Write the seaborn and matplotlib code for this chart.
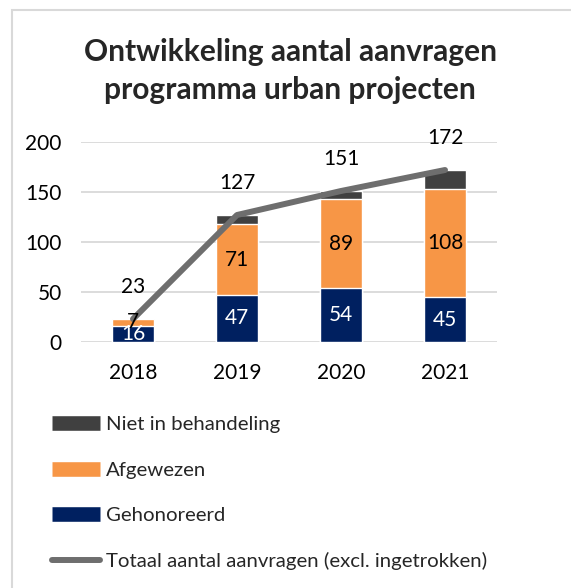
import numpy as np
import pandas as pd
import matplotlib
matplotlib.use('Agg')
import matplotlib.pyplot as plt
import seaborn as sns
from matplotlib.lines import Line2D
from matplotlib.patches import Rectangle

# data
jaren = ['2018', '2019', '2020', '2021']
gehonoreerd = [16, 47, 54, 45]
afgewezen = [7, 71, 89, 108]
niet_in_behandeling = [0, 9, 8, 19]

kleur_geh = '#002060'
kleur_afg = '#F79646'
kleur_niet = '#404040'
kleur_lijn = '#6E6E6E'

sns.set_theme(style='white')
plt.rcParams['font.family'] = ['Lato', 'DejaVu Sans']

df = pd.DataFrame({
    'jaar': jaren,
    'geh': gehonoreerd,
    'afg': afgewezen,
    'niet': niet_in_behandeling,
})
df['tot_afg'] = df['geh'] + df['afg']
df['totaal'] = df['tot_afg'] + df['niet']

fig = plt.figure(figsize=(5.71, 5.88), dpi=100)
ax = fig.add_axes([81 / 571, 246 / 588, 416 / 571, 200 / 588])

# stacked bars: draw cumulative totals back to front
bw = 0.4
sns.barplot(data=df, x='jaar', y='totaal', color=kleur_niet, width=bw, saturation=1, ax=ax, zorder=2)
sns.barplot(data=df, x='jaar', y='tot_afg', color=kleur_afg, width=bw, saturation=1, ax=ax, zorder=2)
sns.barplot(data=df, x='jaar', y='geh', color=kleur_geh, width=bw, saturation=1, ax=ax, zorder=2)

xpos = np.arange(len(jaren))
ax.plot(xpos, df['totaal'], color=kleur_lijn, lw=4.3, solid_capstyle='round', zorder=3)

# labels in the segments
for i in range(len(jaren)):
    ax.text(xpos[i], df['geh'][i] / 2, str(df['geh'][i]), ha='center', va='center',
            color='white', fontsize=15, zorder=4)
    ax.text(xpos[i], df['geh'][i] + df['afg'][i] / 2, str(df['afg'][i]), ha='center', va='center',
            color='black', fontsize=15, zorder=4)
    ax.annotate(str(df['totaal'][i]), (xpos[i], df['totaal'][i]), xytext=(0, 23),
                textcoords='offset points', ha='center', va='center', fontsize=15,
                color='black', annotation_clip=False)

ax.set_xlim(-0.5, 3.5)
ax.set_ylim(0, 200)
ax.set_yticks([0, 50, 100, 150, 200])
ax.yaxis.grid(True, color='#D9D9D9', lw=1.3)
ax.set_axisbelow(True)
for s in ax.spines.values():
    s.set_visible(False)
ax.tick_params(axis='both', length=0, labelsize=15, colors='black')
ax.tick_params(axis='x', pad=15)
ax.tick_params(axis='y', pad=14)
ax.set_xlabel('')
ax.set_ylabel('')

fig.text(0.508, 1 - 71 / 588, 'Ontwikkeling aantal aanvragen\nprogramma urban projecten',
         ha='center', va='center', fontsize=21.5, fontweight='bold', linespacing=1.4)

handles = [
    Line2D([], [], color=kleur_niet, lw=10.5, solid_capstyle='butt'),
    Line2D([], [], color=kleur_afg, lw=10.5, solid_capstyle='butt'),
    Line2D([], [], color=kleur_geh, lw=10.5, solid_capstyle='butt'),
    Line2D([], [], color=kleur_lijn, lw=4.3, solid_capstyle='round'),
]
labels = ['Niet in behandeling', 'Afgewezen', 'Gehonoreerd',
          'Totaal aantal aanvragen (excl. ingetrokken)']
fig.legend(handles, labels, loc='upper left', bbox_to_anchor=(52 / 571, 1 - 416 / 588),
           frameon=False, fontsize=14.7, handlelength=2.35, handletextpad=0.28,
           labelspacing=1.38, borderpad=0, borderaxespad=0)

fig.patches.append(Rectangle((12 / 571, -0.1), 1.2, 1 - 10 / 588 + 0.1, transform=fig.transFigure,
                             fill=False, edgecolor='#D9D9D9', lw=1.5, figure=fig))

fig.savefig('out.png', dpi=100)
